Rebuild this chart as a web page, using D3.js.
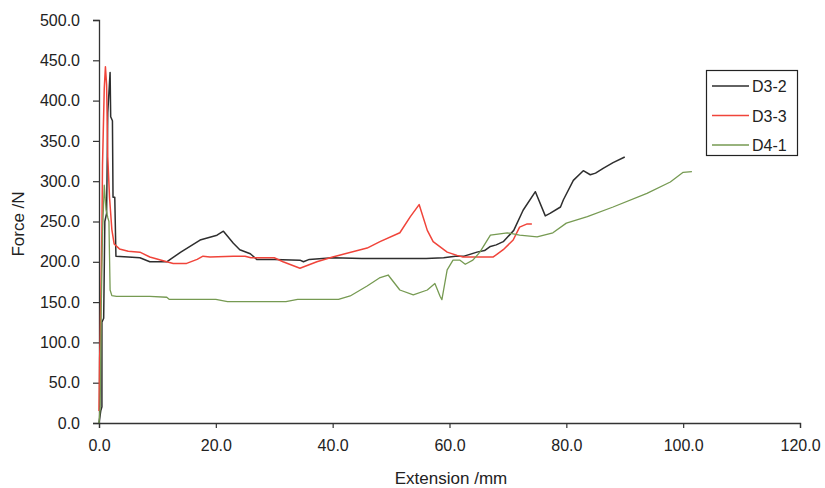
<!DOCTYPE html>
<html><head><meta charset="utf-8">
<script src="https://cdn.jsdelivr.net/npm/d3@7"></script>
<style>
html,body{margin:0;padding:0;background:#fff;}
svg{display:block;font-family:"Liberation Sans",Arial,sans-serif;}
</style></head>
<body><svg id="chart" width="825" height="488"></svg>
<script>
const seriesNames = ["D3-2", "D3-3", "D4-1"];
const seriesColors = ["#2e2e2e", "#f0443a", "#769a52"];

const d32x = [0,0.3,0.5,0.5,0.8,1.0,1.3,1.5,1.9,2.0,2.3,2.4,2.7,2.9,5,7,8.7,11.6,12.2,14,17.3,20.2,21.3,23,24.1,25.9,27,30,34.4,35,36,40,45,48,52,56,59,61,62.5,64.7,66,67,68,69.2,71,72.6,74.7,76.4,77.2,79,79.5,81.2,82.9,84.1,85,86.3,88,90];
const d32y = [0,15,20,125,130,250,260,385,435,380,375,280,280,207,206,205,200,200,203,212,227,233,238,223,215,210,203,203,202,200,203,205,204,204,204,204,205,207,207,212,214,219,221,225,239,264,287,257,260,268,277,301,313,308,310,316,323,330];

const d33x = [0,0.1,0.2,0.3,0.5,0.6,0.9,1.1,1.3,1.5,1.8,2.2,2.6,3.5,5,7,8.7,11.6,12.7,15,16.8,17.8,19,23,25,26,30,31.5,34.4,37.3,40,45.9,48.1,51.5,53.3,54.8,56.2,57.2,59.6,61.3,62.3,67.5,69.2,70.9,72,73.3,74.1];
const d33y = [15,80,100,150,240,320,415,442,420,330,280,240,222,216,213,212,206,200,198,198,203,207,206,207,207,205,205,200,192,200,206,217,225,236,256,271,239,225,212,208,206,206,215,227,243,247,247];

const d41x = [0,0.2,0.4,0.6,0.9,1.2,1.5,1.7,1.9,2.2,3,8.7,11.6,12,20,22,32,34,41,43,45.9,48,49.5,51.5,53.8,56.2,57.5,58.4,58.7,59.6,60.6,61.8,62.7,64,65.2,67,69.9,72,75,77.7,80,83.6,88,93.8,97.8,100,101.5];
const d41y = [0,20,150,235,295,265,255,250,165,158,157,157,156,153.5,153.5,150.5,150.5,153.5,153.5,157.6,170,180,183.6,165,159,165,173,157,153,190,202,202,197,202,212,233,236,233,231,236,248,256,268,285,299,311,312];

const xTicks = [0,20,40,60,80,100,120];
const yTicks = [0,50,100,150,200,250,300,350,400,450,500];
const xTitle = "Extension /mm";
const yTitle = "Force /N";

const series = [
  {name: seriesNames[0], color: seriesColors[0], xs: d32x, ys: d32y, w: 1.5},
  {name: seriesNames[1], color: seriesColors[1], xs: d33x, ys: d33y, w: 1.5},
  {name: seriesNames[2], color: seriesColors[2], xs: d41x, ys: d41y, w: 1.3}
];

const svg = d3.select("#chart");
const x = d3.scaleLinear().domain([0,120]).range([99,800]);
const y = d3.scaleLinear().domain([0,500]).range([423,20]);
const axisColor = "#333";
const fontStack = "'Liberation Sans',Arial,sans-serif";

const xAxis = svg.append("g").attr("transform","translate(0,423)")
  .call(d3.axisBottom(x).tickValues(xTicks).tickFormat(d3.format(".1f")).tickSize(5).tickPadding(12));
const yAxis = svg.append("g").attr("transform","translate(99,0)")
  .call(d3.axisLeft(y).tickValues(yTicks).tickFormat(d3.format(".1f")).tickSize(6).tickPadding(13));
[xAxis,yAxis].forEach(g=>{
  g.select(".domain").attr("stroke",axisColor).attr("stroke-width",1.3);
  g.selectAll(".tick line").attr("stroke",axisColor).attr("stroke-width",1.2);
  g.selectAll(".tick text").attr("fill","#222").style("font-size","16px").style("font-family",fontStack);
});

const line = d3.line().x(d=>x(d[0])).y(d=>y(d[1]));
series.forEach(s=>{
  const pts = s.xs.map((v,i)=>[v,s.ys[i]]);
  svg.append("path").datum(pts).attr("d",line)
    .attr("fill","none").attr("stroke",s.color).attr("stroke-width",s.w)
    .attr("stroke-linejoin","round");
});

svg.append("text").attr("x",451).attr("y",484).attr("text-anchor","middle")
  .attr("fill","#222").style("font-size","17px").text(xTitle);
svg.append("text").attr("transform","translate(24,224) rotate(-90)").attr("text-anchor","middle")
  .attr("fill","#222").style("font-size","17px").text(yTitle);

const lg = svg.append("g");
lg.append("rect").attr("x",706.5).attr("y",70.5).attr("width",91).attr("height",85)
  .attr("fill","#fff").attr("stroke","#222").attr("stroke-width",1.2);
series.forEach((s,i)=>{
  const yy = 86 + i*29.5;
  lg.append("line").attr("x1",712).attr("x2",749).attr("y1",yy).attr("y2",yy)
    .attr("stroke",s.color).attr("stroke-width",1.6);
  lg.append("text").attr("x",752).attr("y",yy+6).attr("fill","#222")
    .style("font-size","16px").text(s.name);
});
</script></body></html>
